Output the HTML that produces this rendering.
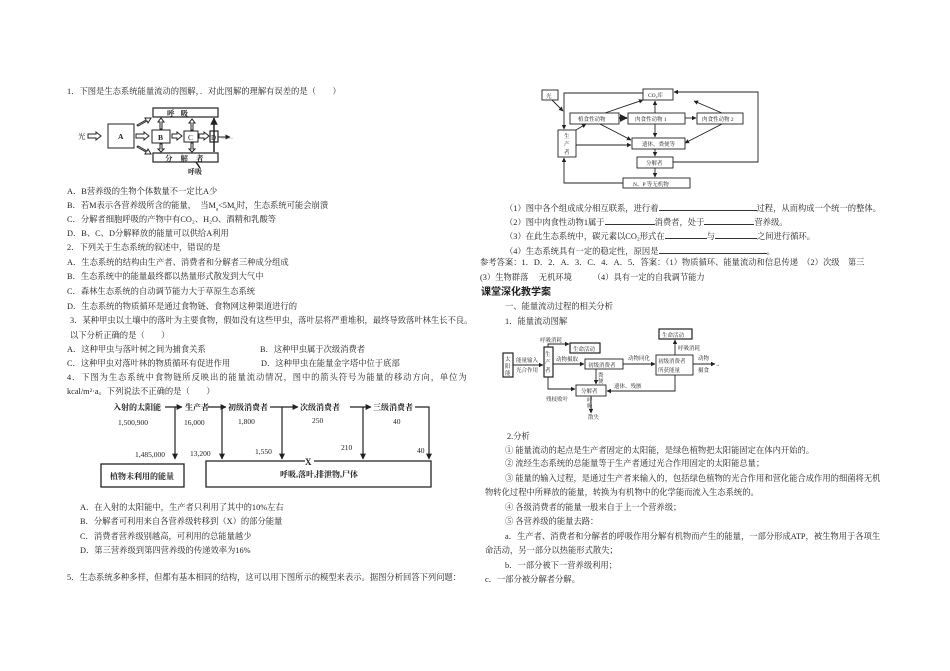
<!DOCTYPE html>
<html><head><meta charset="utf-8">
<style>
body{margin:0;background:#fff;}
#p{position:relative;width:950px;height:671px;overflow:hidden;background:#fff;font-family:"Liberation Serif","Noto Serif CJK SC","Noto Sans CJK SC",serif;font-size:8.3px;color:#222;}
.t{position:absolute;white-space:nowrap;line-height:10px;}
.u{display:inline-block;border-bottom:1px solid #333;height:8px;vertical-align:baseline;}
svg{position:absolute;left:0;top:0;}
svg text{font-family:"Liberation Serif","Noto Serif CJK SC",serif;fill:#222;}
</style></head><body><div id="p">

<div class="t" style="left:67px;top:87px">1．下图是生态系统能量流动的图解，．对此图解的理解有误差的是（　　）</div>
<div class="t" style="left:67px;top:187px">A．B营养级的生物个体数量不一定比A少</div>
<div class="t" style="left:67px;top:201px">B．若M表示各营养级所含的能量，　当M<sub style="font-size:5px">a</sub>&lt;5M<sub style="font-size:5px">b</sub>时，生态系统可能会崩溃</div>
<div class="t" style="left:67px;top:215px">C．分解者细胞呼吸的产物中有CO₂、H₂O、酒精和乳酸等</div>
<div class="t" style="left:67px;top:229px">D．B、C、D分解释放的能量可以供给A利用</div>
<div class="t" style="left:67px;top:243px">2．下列关于生态系统的叙述中，错误的是</div>
<div class="t" style="left:67px;top:258px">A．生态系统的结构由生产者、消费者和分解者三种成分组成</div>
<div class="t" style="left:67px;top:272px">B．生态系统中的能量最终都以热量形式散发到大气中</div>
<div class="t" style="left:67px;top:287px">C．森林生态系统的自动调节能力大于草原生态系统</div>
<div class="t" style="left:67px;top:302px">D．生态系统的物质循环是通过食物链、食物网这种渠道进行的</div>
<div class="t" style="left:70px;top:316px">3．某种甲虫以土壤中的落叶为主要食物，假如没有这些甲虫，落叶层将严重堆积，最终导致落叶林生长不良。</div>
<div class="t" style="left:70px;top:331px">以下分析正确的是（　　）</div>
<div class="t" style="left:67px;top:345px">A．这种甲虫与落叶树之间为捕食关系</div>
<div class="t" style="left:260px;top:345px">B．这种甲虫属于次级消费者</div>
<div class="t" style="left:67px;top:359px">C．这种甲虫对落叶林的物质循环有促进作用</div>
<div class="t" style="left:261px;top:359px">D．这种甲虫在能量金字塔中位于底部</div>
<div class="t" style="left:67px;top:373px;letter-spacing:0.9px">4．下图为生态系统中食物链所反映出的能量流动情况，图中的箭头符号为能量的移动方向，单位为</div>
<div class="t" style="left:67px;top:387px">kcal/m²·a。下列说法不正确的是（　　）</div>
<div class="t" style="left:80px;top:503px">A．在入射的太阳能中，生产者只利用了其中的10%左右</div>
<div class="t" style="left:80px;top:517px">B．分解者可利用来自各营养级转移到（X）的部分能量</div>
<div class="t" style="left:80px;top:532px">C．消费者营养级别越高，可利用的总能量越少</div>
<div class="t" style="left:80px;top:546px">D．第三营养级到第四营养级的传递效率为16%</div>
<div class="t" style="left:67px;top:573px">5．生态系统多种多样，但都有基本相同的结构，这可以用下图所示的模型来表示。据图分析回答下列问题：</div>

<div class="t" style="left:505px;top:202px">（1）图中各个组成成分相互联系，进行着<span class="u" style="width:98px"></span>过程，从而构成一个统一的整体。</div>
<div class="t" style="left:505px;top:216px">（2）图中肉食性动物1属于<span class="u" style="width:50px"></span>消费者，处于<span class="u" style="width:50px"></span>营养级。</div>
<div class="t" style="left:505px;top:230px">（3）在此生态系统中，碳元素以CO₂形式在<span class="u" style="width:42px"></span>与<span class="u" style="width:42px"></span>之间进行循环。</div>
<div class="t" style="left:505px;top:245px">（4）生态系统具有一定的稳定性，原因是<span class="u" style="width:108px"></span>。</div>
<div class="t" style="left:480px;top:258px">参考答案：1．D．2．A．3．C．4．A．5．答案：（1）物质循环、能量流动和信息传递　（2）次级　第三</div>
<div class="t" style="left:480px;top:273px">(3）生物群落　 无机环境　　　（4）具有一定的自我调节能力</div>
<div class="t" style="left:481px;top:287px;font-family:'Liberation Sans','Noto Sans CJK SC',sans-serif;font-weight:bold;font-size:10px;line-height:12px">课堂深化教学案</div>
<div class="t" style="left:505px;top:302px">一、能量流动过程的相关分析</div>
<div class="t" style="left:505px;top:317px">1．能量流动图解</div>
<div class="t" style="left:507px;top:432px">2.分析</div>
<div class="t" style="left:505px;top:446px">① 能量流动的起点是生产者固定的太阳能，是绿色植物把太阳能固定在体内开始的。</div>
<div class="t" style="left:505px;top:459px">② 流经生态系统的总能量等于生产者通过光合作用固定的太阳能总量；</div>
<div class="t" style="left:505px;top:474px">③ 能量的输入过程，是通过生产者来输入的，包括绿色植物的光合作用和营化能合成作用的细菌将无机</div>
<div class="t" style="left:485px;top:488px">物转化过程中所释放的能量，转换为有机物中的化学能而流入生态系统的。</div>
<div class="t" style="left:505px;top:503px">④ 各级消费者的能量一般来自于上一个营养级；</div>
<div class="t" style="left:505px;top:517px">⑤ 各营养级的能量去路：</div>
<div class="t" style="left:505px;top:532px">a．生产者、消费者和分解者的呼吸作用分解有机物而产生的能量，一部分形成ATP，被生物用于各项生</div>
<div class="t" style="left:485px;top:546px">命活动，另一部分以热能形式散失；</div>
<div class="t" style="left:505px;top:561px">b．一部分被下一营养级利用；</div>
<div class="t" style="left:485px;top:575px">c．一部分被分解者分解。</div>

<svg width="950" height="671" viewBox="0 0 950 671">
<defs><marker id="a" markerWidth="5" markerHeight="5" refX="4.5" refY="2.5" orient="auto"><path d="M0,0L5,2.5L0,5z" fill="#222"/></marker></defs>
<g fill="none" stroke="#222" stroke-width="1">
<!-- Q1 diagram -->
<rect x="153" y="108" width="65" height="9" stroke-width="1.2"/>
<rect x="153" y="153" width="65" height="9" stroke-width="1.2"/>
<rect x="108" y="124" width="26" height="24"/>
<rect x="152" y="130" width="18" height="13"/>
<rect x="184" y="131" width="14" height="11"/>
<rect x="210" y="131" width="8" height="11" stroke-width="1.2"/>
<path d="M88,134h8v-2l5,4l-5,4v-2h-8z"/>
<path d="M136,134h8v-2l5,4l-5,4v-2h-8z"/>
<path d="M172,134h5v-2l5,4l-5,4v-2h-5z"/>
<path d="M199,134h5v-2l5,4l-5,4v-2h-5z"/>
<path d="M137,125l9,-5l-1,-2l6,0l-3,5l-1,-2l-9,5z"/>
<path d="M137,147l9,5l-1,2l6,0l-3,-5l-1,2l-9,-5z"/>
<path d="M160,129v-7h-2l3,-4l3,4h-2v7z"/><path d="M191,130v-7h-2l3,-4l3,4h-2v7z"/>
<path d="M160,144v5h-2l3,3l3,-3h-2v-5z"/><path d="M191,143v6h-2l3,3l3,-3h-2v-6z"/>
<path d="M214,152V118" stroke-width="1.5" marker-end="url(#a)"/>
<path d="M218,137h12" marker-end="url(#a)"/>
<path d="M196,162l4,6" stroke-width="1.5"/>
<!-- Q4 diagram -->
<g stroke-width="1.2">
<path d="M165,407h17" marker-end="url(#a)"/><path d="M208,407h18" marker-end="url(#a)"/>
<path d="M270,407h28" marker-end="url(#a)"/><path d="M350,407h21" marker-end="url(#a)"/>
<path d="M415,407h14v52" marker-end="url(#a)"/>
<path d="M175,407v52" marker-end="url(#a)"/><path d="M222,407v52" marker-end="url(#a)"/>
<path d="M282,407v52" marker-end="url(#a)"/><path d="M363,407v52" marker-end="url(#a)"/>
</g>
<rect x="101" y="464" width="83" height="23" stroke-width="1.3"/>
<path d="M305,461h-99v26h225v-26h-117" stroke-width="1.3"/>
<!-- Q5 diagram -->
<g stroke-width="0.9">
<rect x="542" y="90" width="16" height="10"/><rect x="643" y="89" width="30" height="11"/>
<rect x="570" y="113" width="49" height="11"/><rect x="628" y="113" width="57" height="11"/>
<rect x="697" y="113" width="46" height="11"/><rect x="558" y="130" width="18" height="27"/>
<rect x="632" y="138" width="53" height="11"/><rect x="637" y="157" width="36" height="11"/>
<rect x="623" y="178" width="67" height="10"/>
<path d="M643,93h-79v36" marker-end="url(#a)"/>
<path d="M552,100l11,11" marker-end="url(#a)"/>
<path d="M673,162h85v-70h-84" marker-end="url(#a)"/>
<path d="M623,183h-59v-25" marker-end="url(#a)"/>
<path d="M576,130l10,-6" marker-end="url(#a)"/>
<path d="M576,145h55" marker-end="url(#a)"/>
<path d="M605,113l38,-13" marker-end="url(#a)"/>
<path d="M619,118h8" stroke-width="1.6" marker-end="url(#a)"/>
<path d="M685,118h11" marker-end="url(#a)"/>
<path d="M655,113v-12" marker-end="url(#a)"/>
<path d="M722,113l-28,-12" marker-end="url(#a)"/>
<path d="M655,124v13" marker-end="url(#a)"/>
<path d="M600,124l31,16" marker-end="url(#a)"/>
<path d="M722,124l-37,19" marker-end="url(#a)"/>
<path d="M655,149v7" marker-end="url(#a)"/><path d="M655,168v9" marker-end="url(#a)"/>
</g>
<!-- energy flow diagram -->
<g stroke-width="0.9">
<rect x="503" y="353" width="10" height="24" stroke-width="1.2"/>
<rect x="544" y="347" width="9" height="30" stroke-width="1.2"/>
<rect x="570" y="343" width="30" height="10" stroke-width="1.2"/>
<rect x="585" y="359" width="38" height="10"/>
<rect x="576" y="385" width="30" height="11"/>
<rect x="659" y="329" width="33" height="10" stroke-width="1.2"/>
<rect x="656" y="355" width="37" height="20"/>
<path d="M513,365h30" marker-end="url(#a)"/>
<path d="M548,347v-3h21" marker-end="url(#a)"/>
<path d="M553,364h31" marker-end="url(#a)"/>
<path d="M548,377v12h27" marker-end="url(#a)"/>
<path d="M623,364h32" marker-end="url(#a)"/>
<path d="M675,355v-15" marker-end="url(#a)"/>
<path d="M693,364h22" marker-end="url(#a)"/>
<path d="M675,375v16h-68" marker-end="url(#a)"/>
<path d="M596,369v15" marker-end="url(#a)"/>
<path d="M591,396v17" marker-end="url(#a)"/>
</g>
</g>
<g font-size="7.5">
<text x="78" y="139">光</text><text x="118" y="139" font-weight="bold">A</text>
<text x="158" y="140" font-weight="bold">B</text><text x="188" y="140">C</text><text x="211" y="140" font-size="7">D</text>
<text x="221" y="140" font-size="6">······</text>
<text x="167" y="116" font-weight="bold" letter-spacing="6">呼吸</text>
<text x="165" y="161" font-weight="bold" letter-spacing="8">分解者</text>
<text x="188" y="174" font-weight="bold" font-size="7">呼吸</text>
</g>
<g font-size="8" font-weight="bold">
<text x="113" y="410">入射的太阳能</text><text x="185" y="410">生产者</text><text x="228" y="410">初级消费者</text>
<text x="300" y="410">次级消费者</text><text x="373" y="410">三级消费者</text>
<text x="110" y="479">植物未利用的能量</text><text x="280" y="477">呼吸,落叶,排泄物,尸体</text>
<text x="305" y="465" font-size="9">X</text>
</g>
<g font-size="7.5">
<text x="118" y="425">1,500,900</text><text x="184" y="425">16,000</text><text x="238" y="424">1,800</text>
<text x="312" y="423">250</text><text x="393" y="424">40</text>
<text x="135" y="457">1,485,000</text><text x="190" y="456">13,200</text><text x="255" y="454">1,550</text>
<text x="341" y="450">210</text><text x="417" y="453">40</text>
</g>
<g font-size="5.5">
<text x="546" y="98">光</text><text x="648" y="97">CO₂库</text>
<text x="578" y="121">植食性动物</text><text x="635" y="121">肉食性动物 1</text><text x="702" y="121">肉食性动物 2</text>
<text x="564" y="138">生</text><text x="564" y="146">产</text><text x="564" y="154">者</text>
<text x="642" y="146">遗体、粪便等</text><text x="646" y="165">分解者</text><text x="633" y="186">N、P 等无机物</text>
<text x="505" y="361">太</text><text x="505" y="368">阳</text><text x="505" y="375">能</text>
<text x="545" y="356">生</text><text x="545" y="364">产</text><text x="545" y="372">者</text>
<text x="573" y="351">生命活动</text><text x="588" y="367">初级消费者</text><text x="581" y="393">分解者</text>
<text x="662" y="337">生命活动</text><text x="658" y="363">初级消费者</text><text x="658" y="372">所获能量</text>
<text x="540" y="342">呼吸消耗</text><text x="516" y="362">能量输入</text><text x="516" y="372">光合作用</text>
<text x="556" y="361">动物摄取</text><text x="628" y="360">动物同化</text><text x="678" y="350">呼吸消耗</text>
<text x="698" y="360">动物</text><text x="698" y="372">摄食</text><text x="715" y="366">→</text>
<text x="614" y="388">遗体、残骸</text><text x="546" y="401">残枝败叶</text>
<text x="598" y="377">粪</text><text x="598" y="383">便</text><text x="587" y="402">呼</text><text x="587" y="408">吸</text>
<text x="588" y="419">散失</text>
</g>
</svg>
</div></body></html>
